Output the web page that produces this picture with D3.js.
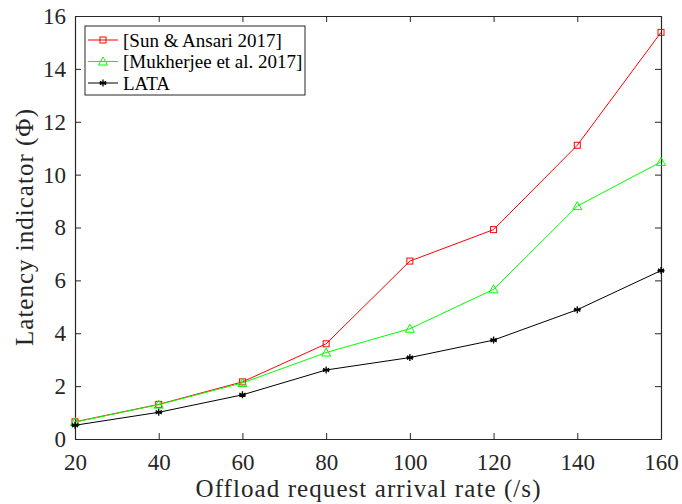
<!DOCTYPE html>
<html>
<head>
<meta charset="utf-8">
<script src="https://cdn.jsdelivr.net/npm/d3@7"></script>
<style>
  html, body { margin: 0; padding: 0; background: #fff; }
  svg { display: block; }
</style>
</head>
<body>
<svg id="chart" width="682" height="504"></svg>
<script>
// Offload request arrival rate (/s)
const rates = [20, 40, 60, 80, 100, 120, 140, 160];

// Latency indicator for each scheme
const sunAnsari = [0.65, 1.31, 2.16, 3.60, 6.73, 7.92, 11.11, 15.38];
const mukherjee = [0.64, 1.30, 2.12, 3.27, 4.17, 5.66, 8.81, 10.48];
const lata      = [0.52, 1.01, 1.67, 2.61, 3.08, 3.74, 4.89, 6.37];

const seriesNames = ["[Sun & Ansari 2017]", "[Mukherjee et al. 2017]", "LATA"];

const xTicks = [20, 40, 60, 80, 100, 120, 140, 160];
const yTicks = [0, 2, 4, 6, 8, 10, 12, 14, 16];

const series = [
  { name: seriesNames[0], values: sunAnsari, color: "#ff0000", marker: "square" },
  { name: seriesNames[1], values: mukherjee, color: "#00ff00", marker: "triangle" },
  { name: seriesNames[2], values: lata,      color: "#000000", marker: "asterisk" }
];

const FONT = '"Liberation Serif", "Times New Roman", Times, serif';

const svg = d3.select("#chart");
const m = { left: 75, right: 682 - 661, top: 16, bottom: 504 - 439 };
const W = 682 - m.left - m.right;
const H = 504 - m.top - m.bottom;

const x = d3.scaleLinear().domain([20, 160]).range([0, W]);
const y = d3.scaleLinear().domain([0, 16]).range([H, 0]);

const g = svg.append("g").attr("transform", `translate(${m.left},${m.top})`);

const axisColor = "#262626";
const tickLen = 6;

// Box axes: inward ticks on all four sides, labels only bottom and left
function styleAxis(sel) {
  sel.attr("font-size", 23);
  sel.select(".domain").attr("stroke", axisColor).attr("stroke-width", 1.2);
  sel.selectAll(".tick line").attr("stroke", axisColor).attr("stroke-width", 1);
  sel.selectAll(".tick text").attr("fill", axisColor).style("font-family", FONT);
}

const xAxis = g.append("g").attr("transform", `translate(0,${H})`)
  .call(d3.axisBottom(x).tickValues(xTicks).tickSizeInner(-tickLen).tickSizeOuter(0).tickPadding(15));
styleAxis(xAxis);

g.append("g")
  .call(d3.axisTop(x).tickValues(xTicks).tickSizeInner(-tickLen).tickSizeOuter(0).tickFormat(""))
  .call(styleAxis);

g.append("g")
  .call(d3.axisLeft(y).tickValues(yTicks).tickSizeInner(-tickLen).tickSizeOuter(0).tickPadding(9))
  .call(styleAxis);

g.append("g").attr("transform", `translate(${W},0)`)
  .call(d3.axisRight(y).tickValues(yTicks).tickSizeInner(-tickLen).tickSizeOuter(0).tickFormat(""))
  .call(styleAxis);

// Marker shapes: open square, open triangle, asterisk
function drawMarker(sel, type, color) {
  if (type === "square") {
    sel.append("rect").attr("x", -3).attr("y", -3).attr("width", 6).attr("height", 6)
      .attr("fill", "none").attr("stroke", color).attr("stroke-width", 1);
  } else if (type === "triangle") {
    sel.append("path").attr("d", "M0,-4.5L4.5,3.5L-4.5,3.5Z")
      .attr("fill", "none").attr("stroke", color).attr("stroke-width", 1);
  } else {
    const r = 3.5;
    const d = [0, 60, 120].map(a => {
      const t = a * Math.PI / 180;
      return `M${-r * Math.sin(t)},${-r * Math.cos(t)}L${r * Math.sin(t)},${r * Math.cos(t)}`;
    }).join("") + `M${-r},0L${r},0`;
    sel.append("path").attr("d", d).attr("stroke", color).attr("stroke-width", 1.3).attr("fill", "none");
  }
}

const line = d3.line().x((d, i) => x(rates[i])).y(d => y(d));

series.forEach(s => {
  g.append("path").datum(s.values)
    .attr("d", line).attr("fill", "none").attr("stroke", s.color).attr("stroke-width", 1);
  s.values.forEach((v, i) => {
    const mk = g.append("g").attr("transform", `translate(${x(rates[i])},${y(v)})`);
    drawMarker(mk, s.marker, s.color);
  });
});

// Axis titles
svg.append("text")
  .attr("x", m.left + W / 2).attr("y", 497)
  .attr("text-anchor", "middle")
  .attr("textLength", 345).attr("lengthAdjust", "spacing")
  .style("font-family", FONT).attr("font-size", 25).attr("fill", axisColor)
  .text("Offload request arrival rate (/s)");

svg.append("text")
  .attr("transform", `translate(33,${m.top + H / 2}) rotate(-90)`)
  .attr("text-anchor", "middle")
  .attr("textLength", 237).attr("lengthAdjust", "spacing")
  .style("font-family", FONT).attr("font-size", 25).attr("fill", axisColor)
  .text("Latency indicator (Φ)");

// Legend
const lg = svg.append("g").attr("transform", "translate(85,26)");
lg.append("rect").attr("x", 0).attr("y", 0).attr("width", 220).attr("height", 69)
  .attr("fill", "#fff").attr("stroke", axisColor).attr("stroke-width", 1);
series.forEach((s, i) => {
  const cy = 14 + i * 21.5;
  lg.append("line").attr("x1", 3).attr("x2", 33).attr("y1", cy).attr("y2", cy)
    .attr("stroke", s.color).attr("stroke-width", 1);
  const mk = lg.append("g").attr("transform", `translate(18,${cy})`);
  drawMarker(mk, s.marker, s.color);
  lg.append("text").attr("x", 38).attr("y", cy).attr("dy", "0.35em")
    .style("font-family", FONT).attr("font-size", 19).attr("fill", "#000")
    .text(s.name);
});
</script>
</body>
</html>
